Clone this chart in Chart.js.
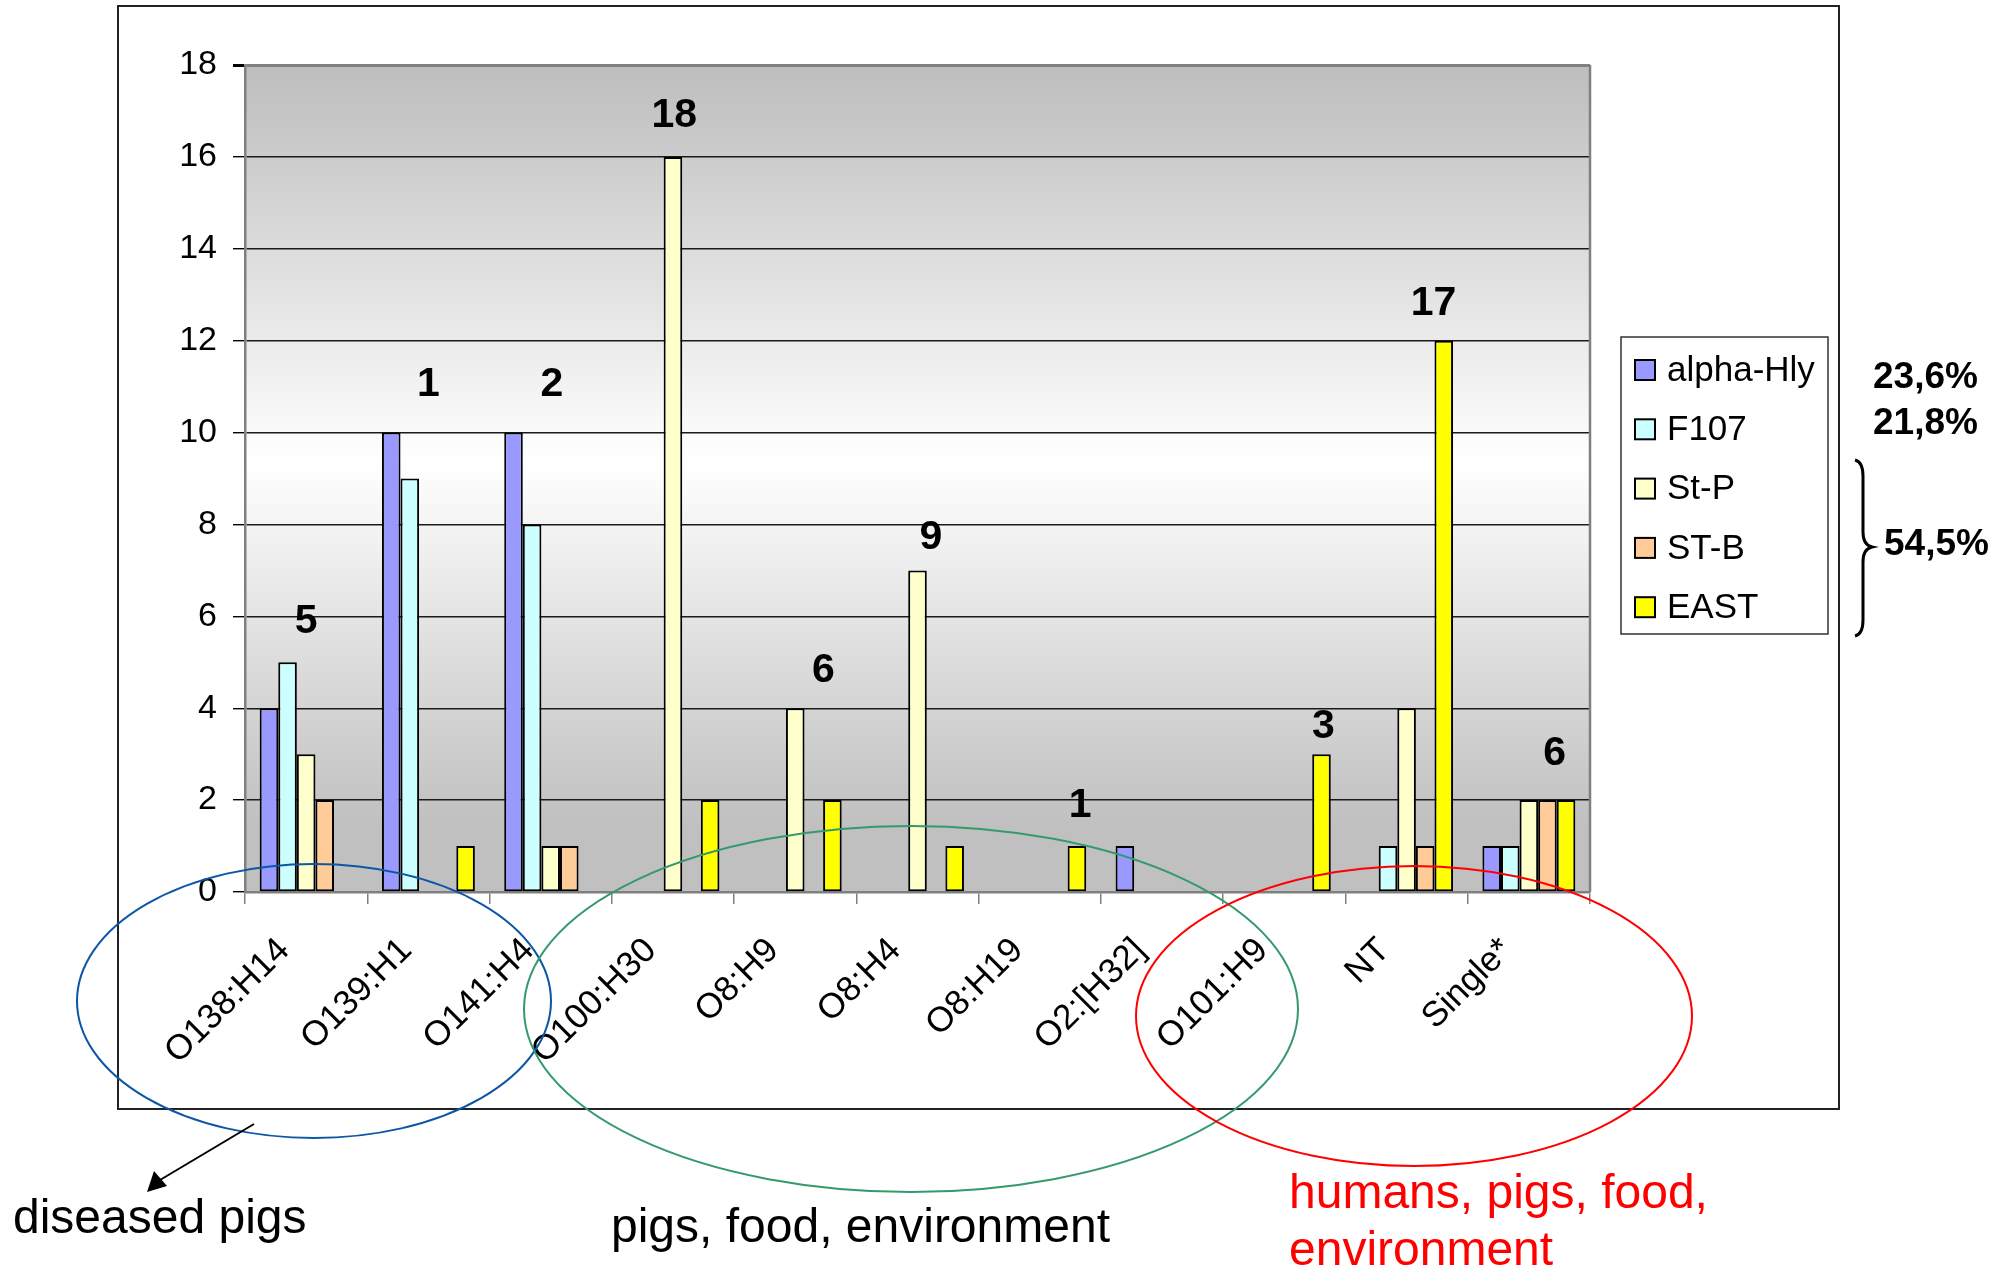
<!DOCTYPE html>
<html>
<head>
<meta charset="utf-8">
<script src="https://cdn.jsdelivr.net/npm/chart.js@4.4.0/dist/chart.umd.min.js"></script>
<style>
    html, body { margin: 0; padding: 0; background: #fff; }
</style>
</head>
<body>
<canvas id="chart-serotypes" width="2013" height="1268"></canvas>
<script>
// Serotypes x virulence genes
// -----------------------------------

var serotypes = ['O138:H14', 'O139:H1', 'O141:H4', 'O100:H30', 'O8:H9', 'O8:H4', 'O8:H19', 'O2:[H32]', 'O101:H9', 'NT', 'Single*'];
var alphaHly  = [4, 10, 10, 0, 0, 0, 0, 1, 0, 0, 1];
var f107      = [5, 9, 8, 0, 0, 0, 0, 0, 0, 1, 1];
var stP       = [3, 0, 1, 16, 4, 7, 0, 0, 0, 4, 2];
var stB       = [2, 0, 1, 0, 0, 0, 0, 0, 0, 1, 2];
var east      = [0, 1, 0, 2, 2, 1, 1, 0, 3, 12, 2];
var strainCounts = [5, 1, 2, 18, 6, 9, 1, null, 3, 17, 6];
var yTicks = [0, 2, 4, 6, 8, 10, 12, 14, 16, 18];
var geneShares = ['23,6%', '21,8%', '54,5%'];
var sourceGroups = ['diseased pigs', 'pigs, food, environment', 'humans, pigs, food,', 'environment'];

var FONT = '"Liberation Sans", Arial, sans-serif';

// plot area gradient + outer frame
var plotBackground = {
    id: 'plotBackground',
    beforeDraw: function(chart) {
        var ctx = chart.ctx, a = chart.chartArea;
        ctx.save();
        ctx.fillStyle = '#fff';
        ctx.fillRect(0, 0, chart.width, chart.height);
        ctx.strokeStyle = '#222';
        ctx.lineWidth = 2;
        ctx.strokeRect(118, 6, 1721, 1103);
        var g = ctx.createLinearGradient(0, a.top, 0, a.bottom);
        g.addColorStop(0, '#bdbdbd');
        g.addColorStop(0.48, '#ffffff');
        g.addColorStop(0.92, '#c0c0c0');
        g.addColorStop(1, '#c0c0c0');
        ctx.fillStyle = g;
        ctx.fillRect(a.left, a.top, a.right - a.left, a.bottom - a.top);
        ctx.restore();
    },
    beforeDatasetsDraw: function(chart) {
        var ctx = chart.ctx, a = chart.chartArea;
        ctx.save();
        ctx.strokeStyle = '#808080';
        ctx.lineWidth = 2.5;
        ctx.beginPath();
        ctx.moveTo(a.right, a.top);
        ctx.lineTo(a.right, a.bottom);
        ctx.stroke();
        ctx.restore();
    }
};

// bold strain counts above the groups
var strainLabels = {
    id: 'strainLabels',
    afterDatasetsDraw: function(chart, args, opts) {
        var xs = chart.scales.x, ys = chart.scales.y, ctx = chart.ctx;
        var step = xs.width / serotypes.length;
        ctx.save();
        ctx.font = 'bold 41px ' + FONT;
        ctx.fillStyle = '#000';
        ctx.textAlign = 'center';
        ctx.textBaseline = 'middle';
        strainCounts.forEach(function(n, i) {
            if (n === null) return;
            var top = Math.max.apply(null, chart.data.datasets.map(function(d) { return d.data[i] || 0; }));
            var nudge = opts.nudge[i];
            ctx.fillText(String(n), xs.getPixelForValue(i) + nudge[0] * step, ys.getPixelForValue(top) - nudge[1]);
        });
        ctx.restore();
    }
};

// legend box, percentages, source ellipses
var annotations = {
    id: 'annotations',
    afterDraw: function(chart) {
        var ctx = chart.ctx;
        ctx.save();

        // legend
        ctx.fillStyle = '#fff';
        ctx.fillRect(1621, 337, 207, 297);
        ctx.strokeStyle = '#333';
        ctx.lineWidth = 1.5;
        ctx.strokeRect(1621, 337, 207, 297);
        ctx.font = '35px ' + FONT;
        ctx.textBaseline = 'middle';
        ctx.textAlign = 'left';
        chart.data.datasets.forEach(function(d, i) {
            var cy = 370 + i * 59.3;
            ctx.fillStyle = d.backgroundColor;
            ctx.fillRect(1635, cy - 10, 20, 20);
            ctx.strokeStyle = '#000';
            ctx.lineWidth = 2;
            ctx.strokeRect(1635, cy - 10, 20, 20);
            ctx.fillStyle = '#000';
            ctx.fillText(d.label, 1667, cy + 1);
        });

        // shares
        ctx.font = 'bold 37px ' + FONT;
        ctx.textBaseline = 'alphabetic';
        ctx.fillText(geneShares[0], 1873, 388);
        ctx.fillText(geneShares[1], 1873, 434);
        ctx.fillText(geneShares[2], 1884, 555);

        // brace
        ctx.strokeStyle = '#000';
        ctx.lineWidth = 3;
        ctx.beginPath();
        ctx.moveTo(1855, 460);
        ctx.quadraticCurveTo(1863, 462, 1863, 476);
        ctx.lineTo(1863, 532);
        ctx.quadraticCurveTo(1863, 545, 1872, 547);
        ctx.quadraticCurveTo(1863, 549, 1863, 562);
        ctx.lineTo(1863, 620);
        ctx.quadraticCurveTo(1863, 634, 1855, 636);
        ctx.stroke();

        // ellipses
        ctx.lineWidth = 2;
        ctx.strokeStyle = '#0d56a6';
        ctx.beginPath();
        ctx.ellipse(314, 1001, 237, 137, 0, 0, Math.PI * 2);
        ctx.stroke();
        ctx.strokeStyle = '#349a6c';
        ctx.beginPath();
        ctx.ellipse(911, 1009, 387, 183, 0, 0, Math.PI * 2);
        ctx.stroke();
        ctx.strokeStyle = '#ff0000';
        ctx.beginPath();
        ctx.ellipse(1414, 1016, 278, 150, 0, 0, Math.PI * 2);
        ctx.stroke();

        // arrow
        ctx.strokeStyle = '#000';
        ctx.lineWidth = 2;
        ctx.beginPath();
        ctx.moveTo(254, 1124);
        ctx.lineTo(160, 1180);
        ctx.stroke();
        ctx.fillStyle = '#000';
        ctx.beginPath();
        ctx.moveTo(147, 1192);
        ctx.lineTo(154, 1171);
        ctx.lineTo(167, 1186);
        ctx.closePath();
        ctx.fill();

        // source groups
        ctx.font = '48px ' + FONT;
        ctx.fillStyle = '#000';
        ctx.fillText(sourceGroups[0], 13, 1233);
        ctx.fillText(sourceGroups[1], 611, 1242);
        ctx.fillStyle = '#ff0000';
        ctx.fillText(sourceGroups[2], 1289, 1208);
        ctx.fillText(sourceGroups[3], 1289, 1265);

        ctx.restore();
    }
};

var series = [
    { label: 'alpha-Hly', data: alphaHly, color: '#9999ff' },
    { label: 'F107',      data: f107,     color: '#ccffff' },
    { label: 'St-P',      data: stP,      color: '#ffffcc' },
    { label: 'ST-B',      data: stB,      color: '#ffcc99' },
    { label: 'EAST',      data: east,     color: '#ffff00' }
];

var barData = {
    labels: serotypes,
    datasets: series.map(function(s) {
        return {
            label: s.label,
            data: s.data,
            backgroundColor: s.color,
            borderColor: '#000',
            borderWidth: 2,
            borderSkipped: false,
            barPercentage: 1,
            categoryPercentage: 0.76
        };
    })
};

var barOptions = {
    responsive: false,
    animation: false,
    devicePixelRatio: 1,
    layout: { padding: { top: 65, right: 423, left: 0, bottom: 0 } },
    plugins: {
        legend: { display: false },
        tooltip: { enabled: false },
        strainLabels: {
            nudge: [[0, 41], [0, 48], [0.01, 48], [0.01, 41], [0.23, 38], [0.11, 33], [0.33, 40], null, [0.32, 27], [0.22, 37], [0.21, 46]]
        }
    },
    scales: {
        x: {
            afterFit: function(scale) { scale.height = 376; },
            grid: {
                offset: true,
                drawOnChartArea: false,
                tickLength: 12,
                color: '#808080',
                lineWidth: 1.5
            },
            border: { color: '#808080', width: 2.5 },
            ticks: {
                autoSkip: false,
                minRotation: 45,
                maxRotation: 45,
                padding: 26,
                labelOffset: -22,
                color: '#000',
                font: { family: FONT, size: 35 }
            }
        },
        y: {
            min: 0,
            max: 18,
            afterFit: function(scale) { scale.width = 245; },
            afterBuildTicks: function(scale) {
                scale.ticks = yTicks.map(function(v) { return { value: v }; });
            },
            grid: {
                color: function(c) { return c.tick && c.tick.value === 18 ? '#808080' : '#1a1a1a'; },
                lineWidth: function(c) { return c.tick && c.tick.value === 18 ? 3 : 1.4; },
                tickColor: '#000',
                tickLength: 12
            },
            border: { color: '#808080', width: 2.5 },
            ticks: {
                padding: 16,
                color: '#000',
                font: { family: FONT, size: 34 }
            }
        }
    }
};

var barctx = document.getElementById('chart-serotypes').getContext('2d');
var barChart = new Chart(barctx, {
    type: 'bar',
    data: barData,
    options: barOptions,
    plugins: [plotBackground, strainLabels, annotations]
});
</script>
</body>
</html>
